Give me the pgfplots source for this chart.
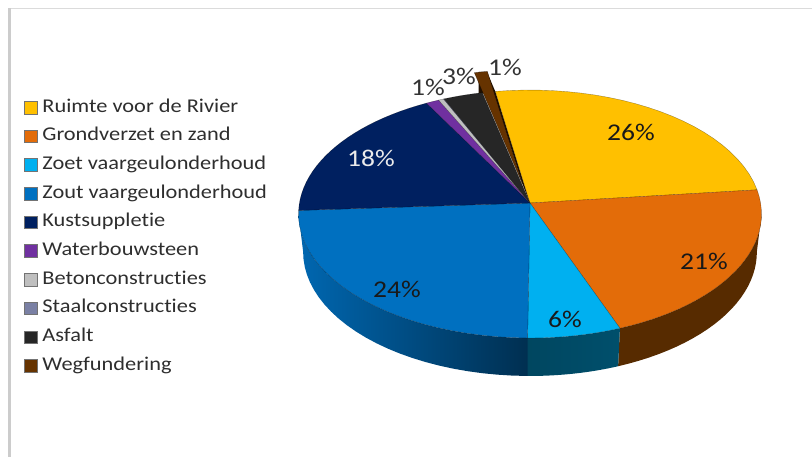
\documentclass[border=0pt]{standalone}
\usepackage{pgfplots}
\pgfplotsset{compat=1.18}
\usepackage{fontspec}
\setmainfont{Carlito}[FakeStretch=1.147,Ligatures=NoCommon]

% Slice colours
\definecolor{cRuimte}{HTML}{FFC000}
\definecolor{cGrond}{HTML}{E36C09}
\definecolor{cZoet}{HTML}{00B0F0}
\definecolor{cZout}{HTML}{0070C0}
\definecolor{cKust}{HTML}{002060}
\definecolor{cWater}{HTML}{7030A0}
\definecolor{cBeton}{HTML}{BFBFBF}
\definecolor{cStaal}{HTML}{7A80A4}
\definecolor{cAsfalt}{HTML}{262626}
\definecolor{cWeg}{HTML}{663300}

% Shares per category, in percent
\def\sRuimte{26}
\def\sGrond{21}
\def\sZoet{6}
\def\sZout{24}
\def\sKust{18}
\def\sWater{1}
\def\sBeton{0.4}
\def\sStaal{0.05}
\def\sAsfalt{3}
\def\sWeg{1}

% Perspective view of the disc: centre, half width, depth scale and foreshortening
\def\Cx{530}
\def\Cy{203}
\def\Rx{230.6}
\def\Aa{123}
\def\Kk{0.0887}
\def\Wallx{226}
\def\Wally{241}

\pgfmathsetmacro\total{\sRuimte+\sGrond+\sZoet+\sZout+\sKust+\sWater+\sBeton+\sStaal+\sAsfalt+\sWeg}
\pgfmathsetmacro\dg{360/\total}
\pgfmathsetmacro\tA{-9.4}
\pgfmathsetmacro\tB{\tA+\dg*\sRuimte}
\pgfmathsetmacro\tC{\tB+\dg*\sGrond}
\pgfmathsetmacro\tD{\tC+\dg*\sZoet}
\pgfmathsetmacro\tE{\tD+\dg*\sZout}
\pgfmathsetmacro\tF{\tE+\dg*\sKust}
\pgfmathsetmacro\tG{\tF+\dg*\sWater}
\pgfmathsetmacro\tH{\tG+\dg*\sBeton}
\pgfmathsetmacro\tI{\tH+\dg*\sStaal}
\pgfmathsetmacro\tJ{\tI+\dg*\sAsfalt}
\pgfmathsetmacro\tK{\tJ+\dg*\sWeg}

% Appends an arc of the disc rim to \pts: angles from, to; centre x, y; half width
\newcommand\addarc[5]{%
  \pgfmathsetmacro\stp{(#2-(#1))/24}%
  \foreach \i in {0,...,24}{%
    \pgfmathsetmacro\th{#1+\i*\stp}%
    \pgfmathsetmacro\den{1+\Kk*cos(\th)}%
    \pgfmathsetmacro\px{#3+#5*sin(\th)/\den}%
    \pgfmathsetmacro\py{#4-\Aa*cos(\th)/\den}%
    \xdef\pts{\pts (\px,\py)}%
  }%
}
% Top face of a slice: style, angles from, to; shift x, y
\newcommand\topface[5]{%
  \pgfmathsetmacro\ox{\Cx+#4}\pgfmathsetmacro\oy{\Cy+#5}%
  \xdef\pts{(\ox,\oy)}%
  \addarc{#2}{#3}{\ox}{\oy}{\Rx}%
  \xdef\pts{\pts (\ox,\oy)}%
  \edef\tmp{\noexpand\addplot[line width=0.35pt,\unexpanded{#1},forget plot] coordinates {\pts};}\tmp
}
% Outer wall of a slice: style, angles from, to
\newcommand\wall[3]{%
  \xdef\pts{}%
  \addarc{#2}{#3}{\Cx}{\Cy}{\Rx}%
  \addarc{#3}{#2}{\Cx}{\Wally}{\Wallx}%
  \edef\tmp{\noexpand\addplot[\unexpanded{#1},forget plot] coordinates {\pts} -- cycle;}\tmp
}

\begin{document}
\begin{tikzpicture}
\begin{axis}[
  scale only axis, width=812pt, height=457pt,
  xmin=0, xmax=812, ymin=0, ymax=457, y dir=reverse,
  axis lines=none, clip=false,
  legend cell align=left,
  legend image code/.code={\draw[#1,draw=black!55,line width=0.8pt] (0pt,-6.2pt) rectangle (12.6pt,6.4pt);},
  legend style={at={(axis cs:24,99)},anchor=north west,draw=none,fill=none,inner sep=0pt,outer sep=0pt,
    font=\fontsize{19.5}{19.5}\selectfont,text=black!82,row sep=11.2pt,
    nodes={text height=13pt,text depth=4.5pt,inner sep=0pt,outer sep=0pt},
    /tikz/every odd column/.append style={column sep=5pt}},
]
% The page spans the whole axis rectangle
\path[use as bounding box] (axis cs:0,0) rectangle (axis cs:812,457);

% Thin frame along the top and left edges
\addplot[color=black!14,line width=1.4pt,forget plot] coordinates {(9.5,8.5) (812,8.5)};
\addplot[color=black!20,line width=2.2pt,forget plot] coordinates {(9.5,457) (9.5,8)};

\addlegendimage{fill=cRuimte}\addlegendentry{Ruimte voor de Rivier}
\addlegendimage{fill=cGrond}\addlegendentry{Grondverzet en zand}
\addlegendimage{fill=cZoet}\addlegendentry{Zoet vaargeulonderhoud}
\addlegendimage{fill=cZout}\addlegendentry{Zout vaargeulonderhoud}
\addlegendimage{fill=cKust}\addlegendentry{Kustsuppletie}
\addlegendimage{fill=cWater}\addlegendentry{Waterbouwsteen}
\addlegendimage{fill=cBeton}\addlegendentry{Betonconstructies}
\addlegendimage{fill=cStaal}\addlegendentry{Staalconstructies}
\addlegendimage{fill=cAsfalt}\addlegendentry{Asfalt}
\addlegendimage{fill=cWeg}\addlegendentry{Wegfundering}

% Outer walls along the front of the disc
\wall{draw=none,fill=cWeg!85!black}{95}{\tC}
\wall{draw=none,left color=cZoet!40!black,right color=cZoet!45!black}{\tC}{\tD}
\wall{draw=none,left color=cZout!92!black,right color=cZout!42!black}{\tD}{265}

% Sides of the pulled-out slice, behind the top faces
\addplot[fill=black!70!cWeg,draw=none,forget plot] coordinates {(478.5,72) (478.5,93.5) (490,93.5) (487,72) (478.5,72)};
\addplot[fill=black!70!cWeg,draw=none,forget plot] coordinates {(487,72) (495.5,92) (530,203) (522,183) (487,72)};

% Top faces
\topface{fill=cRuimte,draw=black,draw opacity=0.4}{\tA}{\tB}{0}{0}
\topface{fill=cGrond,draw=black,draw opacity=0.4}{\tB}{\tC}{0}{0}
\topface{fill=cZoet,draw=black,draw opacity=0.4}{\tC}{\tD}{0}{0}
\topface{fill=cZout,draw=black,draw opacity=0.4}{\tD}{\tE}{0}{0}
\topface{fill=cKust,draw=black,draw opacity=0.4}{\tE}{\tF}{0}{0}
\topface{fill=cWater,draw=black,draw opacity=0.4}{\tF}{\tG}{0}{0}
\topface{fill=cBeton,draw=black,draw opacity=0.4}{\tG}{\tH}{0}{0}
\topface{fill=cStaal,draw=black,draw opacity=0.4}{\tH}{\tI}{0}{0}
\topface{fill=cAsfalt,draw=black,draw opacity=0.4}{\tI}{\tJ}{0}{0}
% Wegfundering stands apart from the disc
\topface{fill=cWeg,draw=black,draw opacity=0.5}{\tJ}{\tK}{-8}{-20}

% Percentages
\def\pct{\fontsize{24}{24}\selectfont}
\node[font=\pct,text=black!90] at (axis cs:631,132) {26\%};
\node[font=\pct,text=black!90] at (axis cs:704,261) {21\%};
\node[font=\pct,text=black!90] at (axis cs:565,319) {6\%};
\node[font=\pct,text=black!90] at (axis cs:397,289) {24\%};
\node[font=\pct,text=black!8] at (axis cs:371,158) {18\%};
\node[font=\pct,text=black!80] at (axis cs:428,87) {1\%};
\node[font=\pct,text=black!80] at (axis cs:459,76) {3\%};
\node[font=\pct,text=black!80] at (axis cs:505,67) {1\%};
\end{axis}
\end{tikzpicture}
\end{document}
